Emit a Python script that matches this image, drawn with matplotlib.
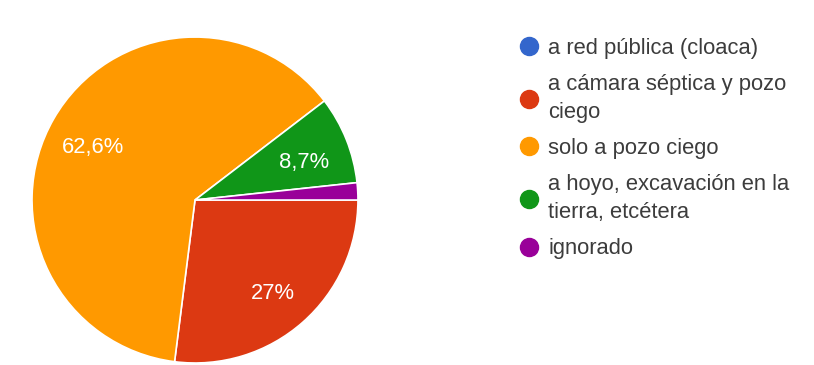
import numpy as np
import matplotlib.pyplot as plt
from matplotlib.lines import Line2D

plt.rcParams['font.family'] = ['Liberation Sans', 'DejaVu Sans']

categories = [
    "a red pública (cloaca)",
    "a cámara séptica y pozo\nciego",
    "solo a pozo ciego",
    "a hoyo, excavación en la\ntierra, etcétera",
    "ignorado",
]
shares = [0.0, 27.0, 62.6, 8.7, 1.7]
pct_labels = ["", "27%", "62,6%", "8,7%", ""]
colors = ["#3366CC", "#DC3912", "#FF9900", "#109618", "#990099"]

fig = plt.figure(figsize=(8.14, 3.65), dpi=100)
ax = fig.add_axes([0.0393, 0.0055, 0.4005, 0.893])

wedges, _ = ax.pie(shares, colors=colors, startangle=0, counterclock=False,
                   wedgeprops=dict(edgecolor="white", linewidth=1.2))
ax.set_xlim(-1, 1)
ax.set_ylim(-1, 1)
ax.set_aspect("equal")

# percentage text inside the wedges
for w, lab in zip(wedges, pct_labels):
    if not lab:
        continue
    mid = np.deg2rad((w.theta1 + w.theta2) / 2)
    r = 0.72
    ax.text(r * np.cos(mid), r * np.sin(mid) - 0.02, lab, ha="center",
            va="center_baseline", color="white", fontsize=15.8)

handles = [Line2D([], [], marker="o", linestyle="none", markersize=13,
                  markerfacecolor=c, markeredgecolor=c) for c in colors]
leg = fig.legend(handles, categories, loc="upper left",
                 bbox_to_anchor=(516 / 814, 1 - 38 / 365), frameon=False,
                 fontsize=15.8, borderpad=0, borderaxespad=0,
                 handlelength=1.2, handletextpad=0.28, labelspacing=0.7,
                 labelcolor="#3c3c3c")
for t in leg.get_texts():
    t.set_linespacing(1.4)

fig.savefig("out.png", dpi=100, facecolor="white")
